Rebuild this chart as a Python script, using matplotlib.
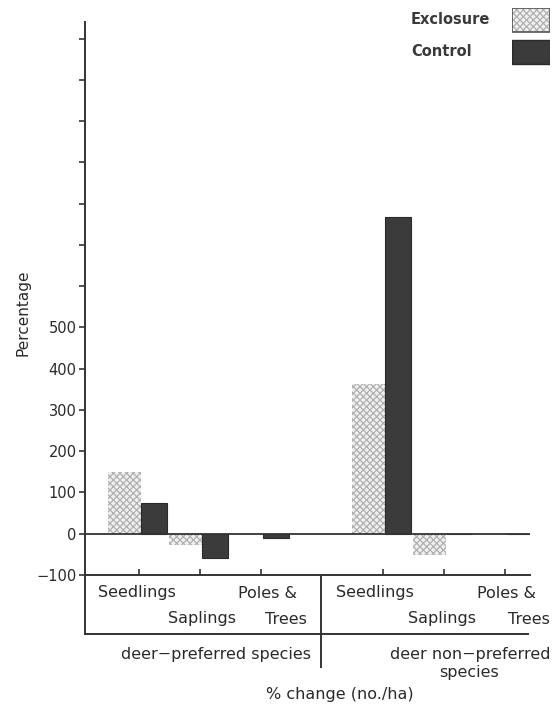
import numpy as np
import matplotlib.pyplot as plt
from matplotlib.lines import Line2D

plt.rcParams['font.family'] = ['DejaVu Sans']
plt.rcParams['hatch.linewidth'] = 0.9

# data (% change, no./ha)
positions = [0, 1, 2, 4, 5, 6]
exclosure = [150, -28, 0, 362, -51, 0]
control = [75, -58, -10, 767, 0, 0]
yticks = list(range(-100, 1300, 100))
ylabels = [str(v) if v <= 500 else '' for v in yticks]
ylabels = [l.replace('-', '\u2212') for l in ylabels]

W, H = 557, 708
fig = plt.figure(figsize=(W / 100, H / 100), dpi=100)


def fx(px):
    return px / W


def fy(py):
    return 1 - py / H


ax = fig.add_axes([fx(85), fy(575), fx(530) - fx(85), fy(22) - fy(575)])

pos = np.array(positions, dtype=float)
ax.bar(pos - 0.245, exclosure, width=0.54, facecolor='#f0f0f0',
       edgecolor='#b0b0b0', hatch='xxxxx', linewidth=0, zorder=2)
ax.bar(pos + 0.25, control, width=0.43, color='#3b3b3b',
       edgecolor='#2a2a2a', linewidth=0.8, zorder=2)

ax.axhline(0, color='#333333', lw=1.3, zorder=3)
ax.set_xlim(-0.885, 6.41)
ax.set_ylim(-100, 1240)
ax.set_yticks(yticks)
ax.set_yticklabels(ylabels, fontsize=10.5, color='#2a2a2a')
ax.set_xticks(positions)
ax.set_xticklabels([])
ax.tick_params(axis='y', direction='out', length=4, width=1.2, color='#333333', pad=2)
ax.tick_params(axis='x', direction='in', length=4, width=1.2, color='#333333')
for s in ['top', 'right']:
    ax.spines[s].set_visible(False)
for s in ['left', 'bottom']:
    ax.spines[s].set_linewidth(1.4)
    ax.spines[s].set_color('#333333')

fig.text(fx(23), fy(313), 'Percentage', rotation=90, ha='center', va='center',
         fontsize=11, color='#2a2a2a')

# lines of the category box under the axis
lc = '#333333'
fig.add_artist(Line2D([fx(85), fx(85)], [fy(575), fy(634)], color=lc, lw=1.4, transform=fig.transFigure))
fig.add_artist(Line2D([fx(85), fx(528)], [fy(634), fy(634)], color=lc, lw=1.4, transform=fig.transFigure))
fig.add_artist(Line2D([fx(321), fx(321)], [fy(577), fy(667)], color=lc, lw=1.4, transform=fig.transFigure))

fs = 11.5
tk = dict(fontsize=fs, color='#2a2a2a', va='center')
fig.text(fx(98), fy(593), 'Seedlings', ha='left', **tk)
fig.text(fx(297), fy(593), 'Poles &', ha='right', **tk)
fig.text(fx(236), fy(619), 'Saplings', ha='right', **tk)
fig.text(fx(307), fy(619), 'Trees', ha='right', **tk)
fig.text(fx(336), fy(593), 'Seedlings', ha='left', **tk)
fig.text(fx(536), fy(593), 'Poles &', ha='right', **tk)
fig.text(fx(476), fy(619), 'Saplings', ha='right', **tk)
fig.text(fx(550), fy(619), 'Trees', ha='right', **tk)
fig.text(fx(311), fy(655), 'deer\u2212preferred species', ha='right', **tk)
fig.text(fx(551), fy(655), 'deer non\u2212preferred', ha='right', **tk)
fig.text(fx(469), fy(673), 'species', ha='center', **tk)
fig.text(fx(340), fy(695), '% change (no./ha)', ha='center', **tk)

# legend
fig.text(fx(411), fy(20), 'Exclosure', ha='left', va='center', fontsize=10.5,
         fontweight='bold', color='#3a3a3a')
fig.text(fx(411), fy(52), 'Control', ha='left', va='center', fontsize=10.5,
         fontweight='bold', color='#3a3a3a')
lg = fig.add_axes([fx(512), fy(66), fx(550) - fx(512), fy(8) - fy(66)])
lg.set_xlim(0, 1)
lg.set_ylim(0, 58)
lg.axis('off')
lg.bar(0.5, 24, bottom=34, width=1, facecolor='#f0f0f0', edgecolor='#b0b0b0',
       hatch='xxxxx', linewidth=0)
lg.add_patch(plt.Rectangle((0, 34), 1, 24, fill=False, edgecolor='#555555', lw=1.2))
lg.bar(0.5, 24, bottom=2, width=1, color='#3b3b3b', edgecolor='#2a2a2a', linewidth=1)

fig.savefig('out.png', dpi=100)
